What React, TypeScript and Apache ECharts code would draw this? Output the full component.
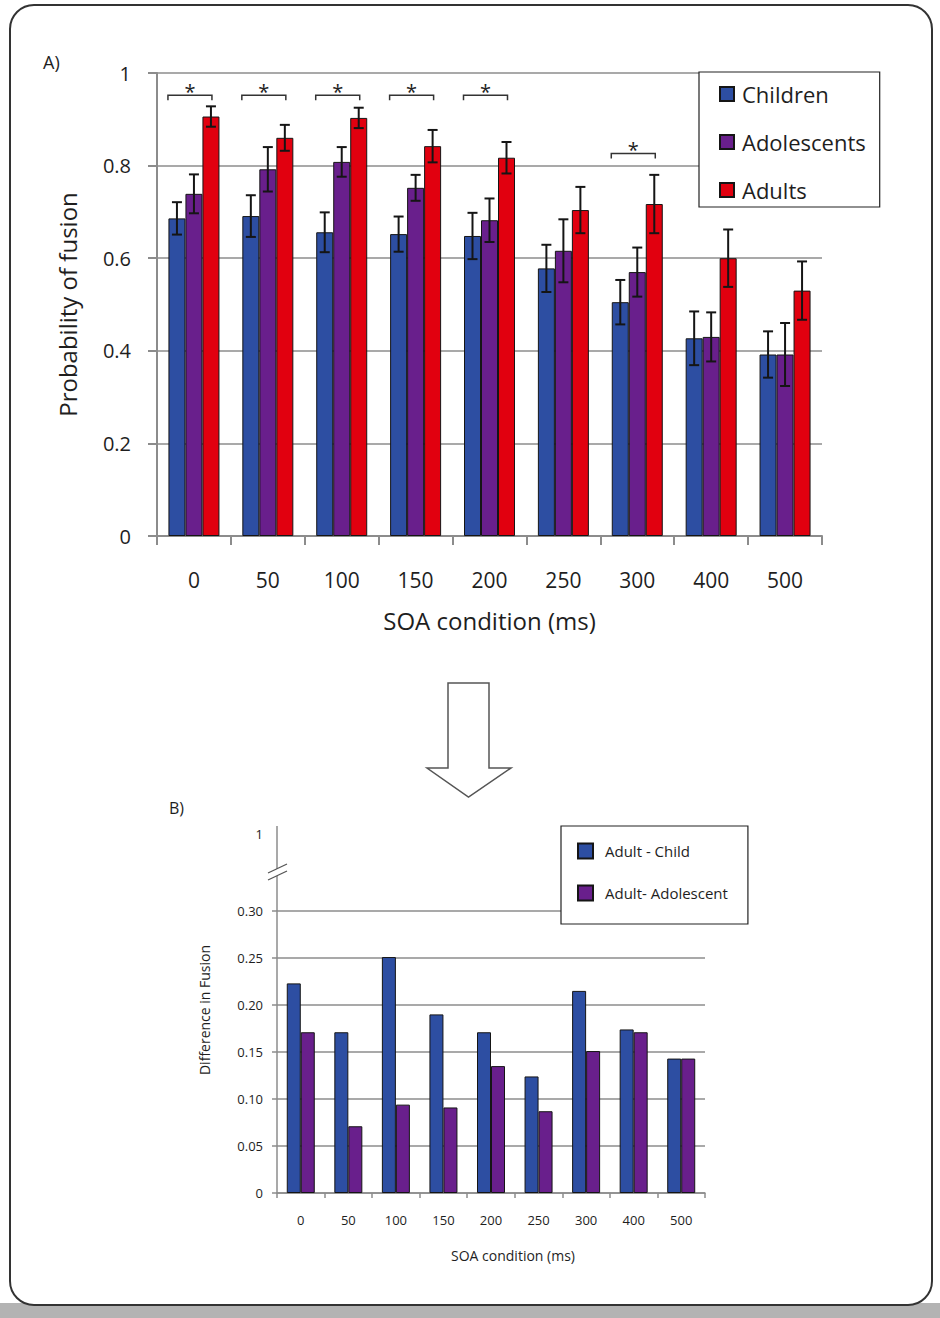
import React, { useEffect, useRef } from 'react';
import * as echarts from 'echarts';

// ---------- Data ----------
const categories = ['0', '50', '100', '150', '200', '250', '300', '400', '500'];

// Panel A: probability of fusion (means and standard errors)
const childrenMean = [0.686, 0.691, 0.656, 0.652, 0.648, 0.578, 0.505, 0.427, 0.392];
const adolescentsMean = [0.739, 0.792, 0.808, 0.752, 0.682, 0.616, 0.570, 0.430, 0.392];
const adultsMean = [0.906, 0.860, 0.903, 0.842, 0.817, 0.704, 0.717, 0.600, 0.530];
const childrenErr = [0.035, 0.045, 0.043, 0.038, 0.050, 0.051, 0.048, 0.058, 0.050];
const adolescentsErr = [0.042, 0.048, 0.032, 0.028, 0.047, 0.068, 0.053, 0.053, 0.068];
const adultsErr = [0.022, 0.028, 0.022, 0.035, 0.034, 0.050, 0.063, 0.062, 0.063];

// significance brackets (category index, height)
const sigCategories = [0, 1, 2, 3, 4, 6];
const sigLevels = [0.952, 0.952, 0.952, 0.952, 0.952, 0.826];

// Panel B: difference in fusion
const adultMinusChild = [0.223, 0.171, 0.251, 0.190, 0.171, 0.124, 0.215, 0.174, 0.143];
const adultMinusAdolescent = [0.171, 0.071, 0.094, 0.091, 0.135, 0.087, 0.151, 0.171, 0.143];

const topYTicks = { min: 0, max: 1, interval: 0.2 };
const bottomYTicks = { min: 0, max: 0.3, interval: 0.05 };

// ---------- Styles ----------
const FONT = 'Open Sans';
const BLUE = '#2D4EA2';
const PURPLE = '#691F8C';
const RED = '#E1000F';
const AXIS_GRAY = '#8c8c8c';
const TEXT = '#1e1e1e';

const TOP_BAR_W = 17;
const BOTTOM_BAR_W = 14;

function errorData(means: number[], errs: number[]) {
  return means.map((m, i) => [i, m - errs[i], m + errs[i]]);
}

function errorSeries(name: string, means: number[], errs: number[], offset: number) {
  return {
    type: 'custom',
    name,
    xAxisIndex: 0,
    yAxisIndex: 0,
    z: 5,
    silent: true,
    encode: { x: 0, y: [1, 2] },
    data: errorData(means, errs),
    renderItem: (params: any, api: any) => {
      const idx = api.value(0);
      const lo = api.coord([idx, api.value(1)]);
      const hi = api.coord([idx, api.value(2)]);
      const cx = lo[0] + offset * TOP_BAR_W;
      const st = { stroke: '#151515', lineWidth: 2 };
      return {
        type: 'group',
        children: [
          { type: 'line', shape: { x1: cx, y1: hi[1], x2: cx, y2: lo[1] }, style: st },
          { type: 'line', shape: { x1: cx - 5, y1: hi[1], x2: cx + 5, y2: hi[1] }, style: st },
          { type: 'line', shape: { x1: cx - 5, y1: lo[1], x2: cx + 5, y2: lo[1] }, style: st },
        ],
      };
    },
  };
}

export default function App() {
  const ref = useRef<HTMLDivElement>(null);

  useEffect(() => {
    document.body.style.margin = '0';
    const chart = echarts.init(ref.current!, null, { renderer: 'svg' });

    const option: any = {
      animation: false,
      textStyle: { fontFamily: FONT, color: TEXT },
      graphic: [
        { type: 'rect', z: -10, shape: { x: 0, y: 1303, width: 940, height: 15 }, style: { fill: '#b3b3b3' } },
        { type: 'rect', z: -9, shape: { x: 10, y: 5, width: 922, height: 1300, r: 24 }, style: { fill: '#ffffff', stroke: '#333333', lineWidth: 2 } },
        { type: 'text', x: 43, y: 62, style: { text: 'A)', fontSize: 18, fontFamily: FONT, fill: TEXT, verticalAlign: 'middle' } },
        { type: 'text', x: 169, y: 808, style: { text: 'B)', fontSize: 16, fontFamily: FONT, fill: TEXT, verticalAlign: 'middle' } },
        {
          type: 'polygon',
          shape: {
            points: [
              [448, 683], [489, 683], [489, 768], [511, 768], [468.5, 797], [427, 768], [448, 768],
            ],
          },
          style: { fill: '#ffffff', stroke: '#555555', lineWidth: 1.5 },
        },
        // Panel B axis extension to the "1" level with a break
        { type: 'line', shape: { x1: 277, y1: 826, x2: 277, y2: 911 }, style: { stroke: AXIS_GRAY, lineWidth: 1.5 } },
        { type: 'polygon', shape: { points: [[268, 873], [287, 864], [287, 871], [268, 880]] }, style: { fill: '#ffffff' } },
        { type: 'line', shape: { x1: 268, y1: 873, x2: 287, y2: 864 }, style: { stroke: '#555', lineWidth: 1.3 } },
        { type: 'line', shape: { x1: 268, y1: 880, x2: 287, y2: 871 }, style: { stroke: '#555', lineWidth: 1.3 } },
        { type: 'text', x: 263, y: 834, style: { text: '1', fontSize: 13, fontFamily: FONT, fill: TEXT, align: 'right', verticalAlign: 'middle' } },
      ],
      legend: [
        {
          data: ['Children', 'Adolescents', 'Adults'],
          orient: 'vertical',
          left: 699,
          top: 72,
          padding: [11, 14, 6, 20],
          itemGap: 26,
          itemWidth: 14,
          itemHeight: 14,
          icon: 'rect',
          backgroundColor: '#ffffff',
          borderColor: '#222222',
          borderWidth: 1.2,
          textStyle: { fontSize: 22, lineHeight: 22, fontFamily: FONT, color: TEXT, padding: [0, 0, 0, 3] },
          selectedMode: false,
        },
        {
          data: ['Adult - Child', 'Adult- Adolescent'],
          orient: 'vertical',
          left: 561,
          top: 826,
          padding: [16, 20, 22, 16],
          itemGap: 24,
          itemWidth: 15,
          itemHeight: 15,
          icon: 'rect',
          backgroundColor: '#ffffff',
          borderColor: '#222222',
          borderWidth: 1.2,
          textStyle: { fontSize: 15, lineHeight: 18, fontFamily: FONT, color: TEXT, padding: [0, 0, 0, 7] },
          selectedMode: false,
        },
      ],
      grid: [
        { left: 157, top: 73, width: 665, height: 463 },
        { left: 277, top: 911, width: 428, height: 282 },
      ],
      xAxis: [
        {
          type: 'category',
          gridIndex: 0,
          data: categories,
          name: 'SOA condition (ms)',
          nameLocation: 'middle',
          nameGap: 72,
          nameTextStyle: { fontSize: 24, fontFamily: FONT, color: TEXT },
          axisLine: { lineStyle: { color: AXIS_GRAY, width: 2 } },
          axisTick: { show: true, length: 9, lineStyle: { color: AXIS_GRAY, width: 2 } },
          axisLabel: { fontSize: 21, margin: 33, color: TEXT, fontFamily: FONT },
        },
        {
          type: 'category',
          gridIndex: 1,
          data: categories,
          name: 'SOA condition (ms)',
          nameLocation: 'middle',
          nameGap: 55,
          nameTextStyle: { fontSize: 14, fontFamily: FONT, color: TEXT, padding: [0, 0, 0, 44] },
          axisLine: { lineStyle: { color: AXIS_GRAY, width: 1.5 } },
          axisTick: { show: true, length: 5, lineStyle: { color: AXIS_GRAY, width: 1.5 } },
          axisLabel: { fontSize: 13, margin: 20, color: TEXT, fontFamily: FONT },
        },
      ],
      yAxis: [
        {
          type: 'value',
          gridIndex: 0,
          min: topYTicks.min,
          max: topYTicks.max,
          interval: topYTicks.interval,
          name: 'Probability of fusion',
          nameLocation: 'middle',
          nameGap: 78,
          nameTextStyle: { fontSize: 24, fontFamily: FONT, color: TEXT },
          axisLine: { show: true, lineStyle: { color: AXIS_GRAY, width: 2 } },
          axisTick: { show: true, length: 9, lineStyle: { color: AXIS_GRAY, width: 2 } },
          splitLine: { show: true, lineStyle: { color: AXIS_GRAY, width: 1.5 } },
          axisLabel: { fontSize: 20, margin: 26, color: TEXT, fontFamily: FONT, formatter: (v: number) => (v === 0 || v === 1 ? String(v) : v.toFixed(1)) },
        },
        {
          type: 'value',
          gridIndex: 1,
          min: bottomYTicks.min,
          max: bottomYTicks.max,
          interval: bottomYTicks.interval,
          name: 'Difference in Fusion',
          nameLocation: 'middle',
          nameGap: 66,
          nameTextStyle: { fontSize: 14, fontFamily: FONT, color: TEXT, padding: [0, 0, 0, 84] },
          axisLine: { show: true, lineStyle: { color: AXIS_GRAY, width: 1.5 } },
          axisTick: { show: true, length: 5, lineStyle: { color: AXIS_GRAY, width: 1.5 } },
          splitLine: { show: true, lineStyle: { color: AXIS_GRAY, width: 1.5 } },
          axisLabel: { fontSize: 13, margin: 14, color: TEXT, fontFamily: FONT, formatter: (v: number) => (v === 0 ? '0' : v.toFixed(2)) },
        },
      ],
      series: [
        {
          type: 'bar', name: 'Children', xAxisIndex: 0, yAxisIndex: 0, data: childrenMean,
          barWidth: TOP_BAR_W, barGap: '0%',
          itemStyle: { color: BLUE, borderColor: '#151515', borderWidth: 1 },
        },
        {
          type: 'bar', name: 'Adolescents', xAxisIndex: 0, yAxisIndex: 0, data: adolescentsMean,
          barWidth: TOP_BAR_W, barGap: '0%',
          itemStyle: { color: PURPLE, borderColor: '#151515', borderWidth: 1 },
        },
        {
          type: 'bar', name: 'Adults', xAxisIndex: 0, yAxisIndex: 0, data: adultsMean,
          barWidth: TOP_BAR_W, barGap: '0%',
          itemStyle: { color: RED, borderColor: '#151515', borderWidth: 1 },
        },
        errorSeries('Children SE', childrenMean, childrenErr, -1),
        errorSeries('Adolescents SE', adolescentsMean, adolescentsErr, 0),
        errorSeries('Adults SE', adultsMean, adultsErr, 1),
        {
          type: 'custom',
          name: 'Significance',
          xAxisIndex: 0,
          yAxisIndex: 0,
          z: 6,
          silent: true,
          encode: { x: 0, y: 1 },
          data: sigCategories.map((c, k) => [c, sigLevels[k]]),
          renderItem: (params: any, api: any) => {
            const p = api.coord([api.value(0), api.value(1)]);
            const x1 = p[0] - 26;
            const x2 = p[0] + 18;
            const y = p[1];
            return {
              type: 'group',
              children: [
                {
                  type: 'polyline',
                  shape: { points: [[x1, y + 5], [x1, y], [x2, y], [x2, y + 5]] },
                  style: { stroke: '#333', lineWidth: 1.5, fill: 'none' },
                },
                {
                  type: 'text',
                  style: {
                    text: '*', x: (x1 + x2) / 2, y: y + 6, align: 'center', verticalAlign: 'bottom',
                    fontSize: 20, fontFamily: FONT, fill: '#222',
                  },
                },
              ],
            };
          },
        },
        {
          type: 'bar', name: 'Adult - Child', xAxisIndex: 1, yAxisIndex: 1, data: adultMinusChild,
          barWidth: BOTTOM_BAR_W, barGap: '0%',
          itemStyle: { color: BLUE, borderColor: '#151515', borderWidth: 1 },
        },
        {
          type: 'bar', name: 'Adult- Adolescent', xAxisIndex: 1, yAxisIndex: 1, data: adultMinusAdolescent,
          barWidth: BOTTOM_BAR_W, barGap: '0%',
          itemStyle: { color: PURPLE, borderColor: '#151515', borderWidth: 1 },
        },
      ],
    };

    chart.setOption(option);
    return () => chart.dispose();
  }, []);

  return <div ref={ref} style={{ position: 'absolute', left: 0, top: 0, width: 940, height: 1318 }} />;
}
